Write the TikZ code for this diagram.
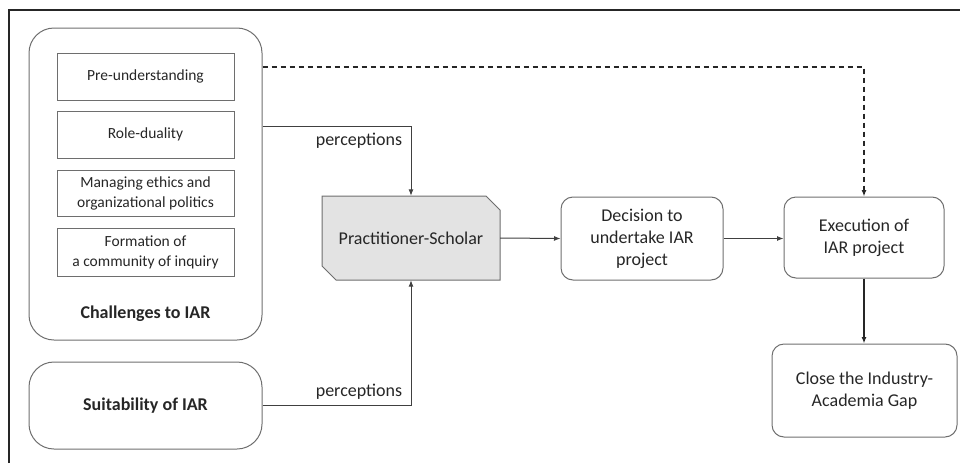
\documentclass[tikz,border=0pt]{standalone}
\usepackage{fontspec}
\setmainfont{Carlito}
\usetikzlibrary{arrows.meta}
\definecolor{boxgray}{HTML}{6E6E6E}
\definecolor{linegray}{HTML}{404040}
\definecolor{psfill}{HTML}{E3E3E3}
\begin{document}
\begin{tikzpicture}[x=1pt,y=-1pt,
 every node/.style={font=\fontsize{18}{22}\selectfont, align=center, inner sep=0pt, text=black!85},
 outerbox/.style={draw=boxgray, line width=1pt, rounded corners=25pt},
 inbox/.style={draw=boxgray, line width=1pt, minimum width=177pt, font=\fontsize{15.5}{20}\selectfont},
 rbox/.style={draw=boxgray, line width=1pt, rounded corners=12pt},
 conn/.style={draw=linegray, line width=1pt, -{Latex[length=6.5pt,width=5pt]}},
 lbl/.style={font=\fontsize{18}{22}\selectfont},
]
\useasboundingbox (0,0) rectangle (960,463);
\draw[line width=1.5pt, black!85] (9,463) -- (9,10) -- (960,10);

% Challenges group
\node[outerbox, minimum width=233pt, minimum height=312pt] (chal) at (145.5,184) {};
\node[inbox, minimum height=47pt] (pre) at (145.5,76.5) {Pre-understanding};
\node[inbox, minimum height=47pt] (role) at (145.5,134.5) {Role-duality};
\node[inbox, minimum height=46pt] (man) at (145.5,193) {Managing ethics and\\organizational politics};
\node[inbox, minimum height=48pt] (form) at (145.5,252) {Formation of\\a community of inquiry};
\node[font=\fontsize{18}{22}\selectfont\bfseries] (chalt) at (145.5,314) {Challenges to IAR};

% Suitability
\node[outerbox, minimum width=233pt, minimum height=87pt, font=\fontsize{18}{22}\selectfont\bfseries] (suit) at (145.5,405.5) {Suitability of IAR};

% Practitioner-Scholar
\fill[psfill] (322,196) -- (486,196) -- (500,210) -- (500,280) -- (336,280) -- (322,266) -- cycle;
\draw[boxgray, line width=1pt] (322,196) -- (486,196) -- (500,210) -- (500,280) -- (336,280) -- (322,266) -- cycle;
\node[minimum width=178pt, minimum height=84pt] (ps) at (411,238) {Practitioner-Scholar};

% Right boxes
\node[rbox, minimum width=162pt, minimum height=83pt] (dec) at (642,238.5) {Decision to\\undertake IAR\\project};
\node[rbox, minimum width=160pt, minimum height=81pt] (exe) at (864,237.5) {Execution of\\IAR project};
\node[rbox, minimum width=185pt, minimum height=93pt] (close) at (864.5,390.5) {Close the Industry-\\Academia Gap};

% Connectors
\draw[conn] ([yshift=58pt]chal.east) -| (ps.north);
\draw[conn] (suit.east) -| (ps.south);
\draw[conn, draw=black!85, line width=1.4pt, dash pattern=on 5pt off 4pt] ([yshift=117pt]chal.east) -| (exe.north);
\draw[conn] (ps.east) -- (dec.west);
\draw[conn] (dec.east) -- (dec.east -| exe.west);
\draw[conn, draw=black!85, line width=1.5pt] (exe.south) -- (exe.south |- close.north);

\node[lbl] (pl1) at (359,141) {perceptions};
\node[lbl] (pl2) at (359,392) {perceptions};
\end{tikzpicture}
\end{document}
